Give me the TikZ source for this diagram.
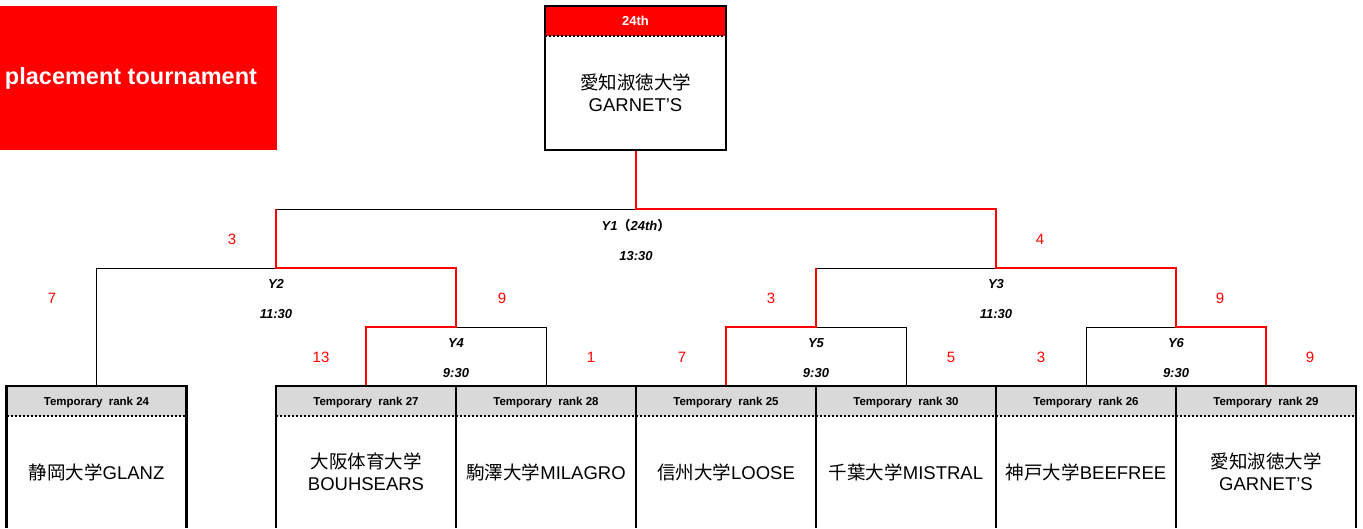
\documentclass[tikz,border=0pt]{standalone}
\usepackage{fontspec}
\setmainfont{Liberation Sans}
\newfontfamily\jpfont{Noto Sans CJK JP}
\usetikzlibrary{positioning, calc}
\definecolor{tred}{RGB}{255,0,0}
\definecolor{headgray}{RGB}{217,217,217}
\tikzset{
    rankhead/.style={
        rectangle,
        fill=headgray,
        minimum width=180pt,
        minimum height=30pt,
        inner sep=0pt,
        outer sep=0pt,
        text depth=0pt,
        font=\fontsize{11.5}{12}\selectfont\bfseries
    },
    placehead/.style={
        rankhead,
        fill=tred,
        minimum width=181pt,
        text=white,
        font=\fontsize{13}{14}\selectfont\bfseries
    },
    teambox/.style={
        rectangle,
        minimum width=180pt,
        minimum height=112pt,
        inner sep=0pt,
        outer sep=0pt,
        align=center,
        font=\fontsize{18.5}{22}\selectfont
    },
    titlebox/.style={
        rectangle,
        fill=tred,
        minimum height=144pt,
        inner sep=0pt,
        outer sep=0pt,
        text=white,
        font=\fontsize{23.5}{26}\selectfont\bfseries
    },
    boxline/.style={
        draw=black,
        line width=2.5pt
    },
    dotline/.style={
        draw=black,
        line width=2pt,
        dotted
    },
    loser/.style={
        draw=black,
        line width=1pt
    },
    winner/.style={
        draw=tred,
        line width=2pt
    },
    scorelabel/.style={
        text=tred,
        font=\fontsize{15}{16}\selectfont
    },
    matchlabel/.style={
        align=center,
        font=\fontsize{13}{30}\selectfont\bfseries\itshape
    }
}

\begin{document}
\begin{tikzpicture}[x=1pt, y=-1pt]

\path[use as bounding box, clip] (0,0) rectangle (1363,528);

% Title
\node[titlebox, anchor=north west] (title) at (0,6)
    {\hbox to 277pt{\hss\raisebox{-3pt}{placement tournament}\hspace*{20pt}}};

% Final place
\node[placehead] (p24) at (635.5,21) {24th};
\node[teambox, minimum width=181pt, minimum height=114pt, below=0pt of p24] (champ)
    {{\jpfont 愛知淑徳大学}\\GARNET’S};

% Teams
\node[rankhead] (h24) at (96.5,401) {Temporary\ \ rank 24};
\node[teambox, below=0pt of h24] (t24) {{\jpfont 静岡大学}GLANZ};

\node[rankhead] (h27) at (366,401) {Temporary\ \ rank 27};
\node[teambox, below=0pt of h27] (t27) {{\jpfont 大阪体育大学}\\BOUHSEARS};
\node[rankhead, right=0pt of h27] (h28) {Temporary\ \ rank 28};
\node[teambox, below=0pt of h28] (t28) {{\jpfont 駒澤大学}MILAGRO};
\node[rankhead, right=0pt of h28] (h25) {Temporary\ \ rank 25};
\node[teambox, below=0pt of h25] (t25) {{\jpfont 信州大学}LOOSE};
\node[rankhead, right=0pt of h25] (h30) {Temporary\ \ rank 30};
\node[teambox, below=0pt of h30] (t30) {{\jpfont 千葉大学}MISTRAL};
\node[rankhead, right=0pt of h30] (h26) {Temporary\ \ rank 26};
\node[teambox, below=0pt of h26] (t26) {{\jpfont 神戸大学}BEEFREE};
\node[rankhead, right=0pt of h26] (h29) {Temporary\ \ rank 29};
\node[teambox, below=0pt of h29] (t29) {{\jpfont 愛知淑徳大学}\\GARNET’S};

% Matches
\coordinate (y1) at (636,209);
\coordinate (y2) at (276,268);
\coordinate (y3) at (996,268);
\coordinate (y4) at (456,327);
\coordinate (y5) at (816,327);
\coordinate (y6) at (1176,327);

\draw[loser] (h28.north) |- (y4);
\draw[loser] (h24.north) |- (y2);
\draw[loser] (y2 |- y1) -- (y1);
\draw[loser] (h30.north) |- (y5);
\draw[loser] (h26.north) |- (y6);
\draw[loser] (y5 |- y3) -- (y3);

\draw[winner] (h27.north) |- (y4) |- (y2) -- (y2 |- y1);
\draw[winner] (h25.north) |- (y5) -- (y5 |- y3);
\draw[winner] (h29.north) |- (y6) |- (y3) |- (y1) -- (y1 |- champ.south);

\node[matchlabel] (m1) at (636,240) {Y1{\jpfont （}24th{\jpfont ）}\\13:30};
\node[matchlabel] (m2) at (276,299) {Y2\\11:30};
\node[matchlabel] (m3) at (996,299) {Y3\\11:30};
\node[matchlabel] (m4) at (456,358) {Y4\\9:30};
\node[matchlabel] (m5) at (816,358) {Y5\\9:30};
\node[matchlabel] (m6) at (1176,358) {Y6\\9:30};

% Scores
\node[scorelabel] (s2) at (232,239) {3};
\node[scorelabel] (s3) at (1040,239) {4};
\node[scorelabel] (s24) at (52,298) {7};
\node[scorelabel] (s4) at (502,298) {9};
\node[scorelabel] (s5) at (771,298) {3};
\node[scorelabel] (s6) at (1220,298) {9};
\node[scorelabel] (s27) at (321,357) {13};
\node[scorelabel] (s28) at (591,357) {1};
\node[scorelabel] (s25) at (682,357) {7};
\node[scorelabel] (s30) at (951,357) {5};
\node[scorelabel] (s26) at (1041,357) {3};
\node[scorelabel] (s29) at (1310,357) {9};

% Frames
\draw[boxline] (champ.south west) rectangle (p24.north east);
\draw[dotline] (p24.south west) -- (p24.south east);
\foreach \r in {24,27,28,25,30,26,29} {
    \draw[boxline] (t\r.south west) |- (h\r.north east) -- (t\r.south east);
    \draw[dotline] (h\r.south west) -- (h\r.south east);
}

\end{tikzpicture}
\end{document}
